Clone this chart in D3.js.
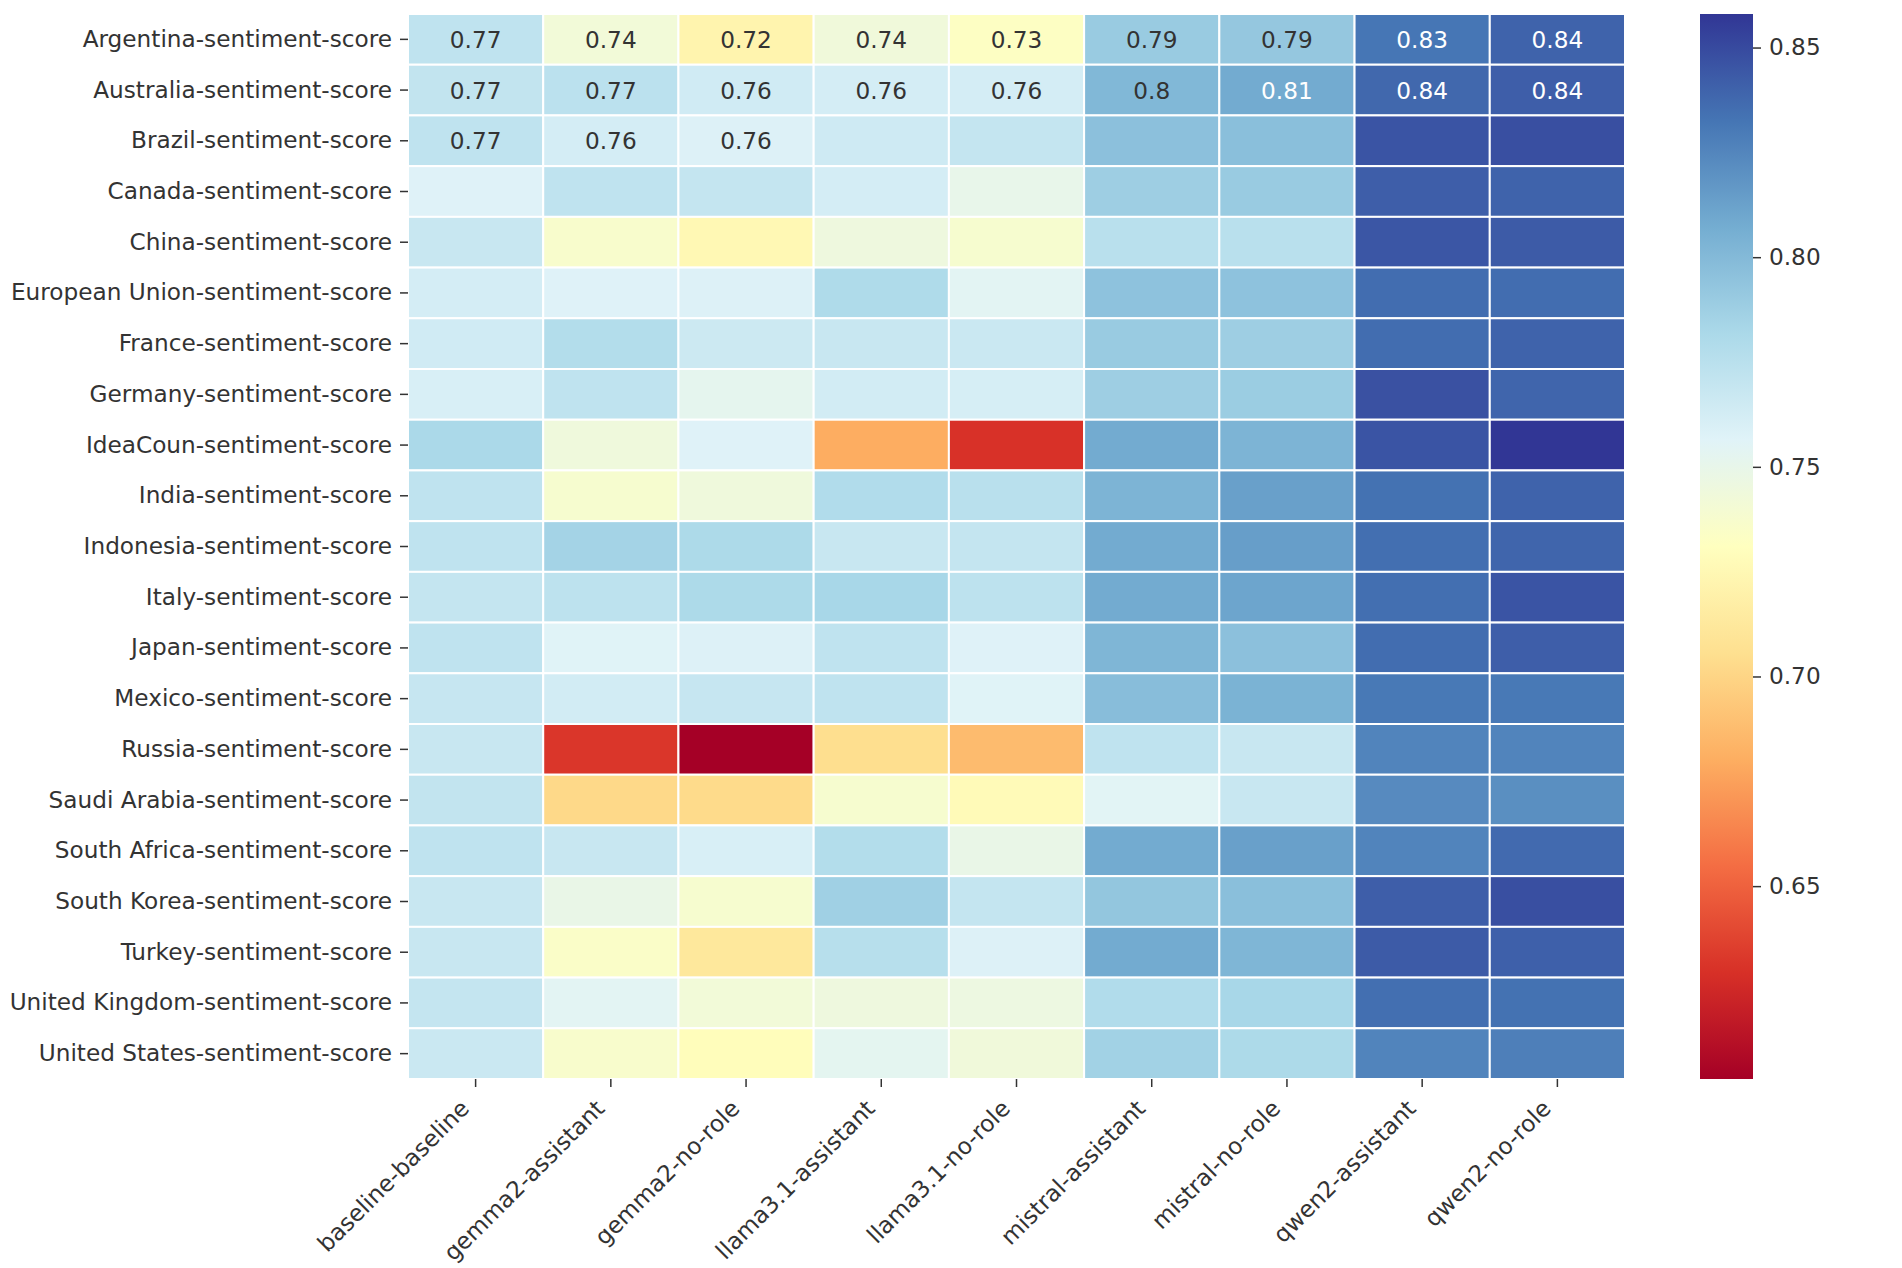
<!DOCTYPE html>
<html lang="en">
<head>
    <meta charset="UTF-8">
    <title>Sentiment score heatmap</title>
    <style>
        body { margin: 0; background: #fff; }
        text { font-family: "DejaVu Sans", sans-serif; }
    </style>
</head>
<body>
<script src="https://d3js.org/d3.v7.min.js"></script>
<script>
    const width = 1902, height = 1268;

    const columns = ["baseline-baseline", "gemma2-assistant", "gemma2-no-role", "llama3.1-assistant",
        "llama3.1-no-role", "mistral-assistant", "mistral-no-role", "qwen2-assistant", "qwen2-no-role"];

    const rows = ["Argentina", "Australia", "Brazil", "Canada", "China", "European Union", "France",
        "Germany", "IdeaCoun", "India", "Indonesia", "Italy", "Japan", "Mexico", "Russia",
        "Saudi Arabia", "South Africa", "South Korea", "Turkey", "United Kingdom", "United States"]
        .map(d => d + "-sentiment-score");

    // one row per country, one value per column
    const values = [
        [0.772, 0.742, 0.722, 0.743, 0.733, 0.790, 0.792, 0.832, 0.840],
        [0.771, 0.774, 0.764, 0.762, 0.762, 0.801, 0.808, 0.838, 0.842],
        [0.772, 0.762, 0.758, 0.765, 0.770, 0.796, 0.797, 0.846, 0.848],
        [0.757, 0.772, 0.770, 0.762, 0.750, 0.788, 0.790, 0.842, 0.840],
        [0.768, 0.737, 0.725, 0.745, 0.738, 0.775, 0.775, 0.845, 0.843],
        [0.762, 0.757, 0.758, 0.780, 0.754, 0.795, 0.795, 0.836, 0.836],
        [0.764, 0.778, 0.766, 0.768, 0.767, 0.790, 0.788, 0.836, 0.840],
        [0.760, 0.772, 0.752, 0.763, 0.761, 0.788, 0.789, 0.847, 0.839],
        [0.782, 0.744, 0.757, 0.680, 0.630, 0.808, 0.803, 0.846, 0.858],
        [0.772, 0.738, 0.744, 0.779, 0.775, 0.803, 0.813, 0.834, 0.840],
        [0.772, 0.785, 0.781, 0.768, 0.770, 0.808, 0.814, 0.835, 0.839],
        [0.770, 0.773, 0.781, 0.783, 0.773, 0.808, 0.811, 0.835, 0.846],
        [0.772, 0.756, 0.758, 0.772, 0.757, 0.802, 0.796, 0.836, 0.842],
        [0.769, 0.763, 0.769, 0.772, 0.756, 0.798, 0.804, 0.831, 0.831],
        [0.768, 0.632, 0.604, 0.705, 0.687, 0.772, 0.768, 0.826, 0.826],
        [0.771, 0.702, 0.703, 0.738, 0.727, 0.755, 0.768, 0.823, 0.821],
        [0.772, 0.768, 0.760, 0.778, 0.749, 0.808, 0.813, 0.826, 0.837],
        [0.768, 0.749, 0.738, 0.787, 0.770, 0.793, 0.797, 0.842, 0.848],
        [0.768, 0.735, 0.712, 0.776, 0.758, 0.808, 0.802, 0.843, 0.841],
        [0.770, 0.754, 0.742, 0.745, 0.746, 0.779, 0.783, 0.835, 0.834],
        [0.767, 0.737, 0.729, 0.753, 0.743, 0.786, 0.781, 0.826, 0.828]
    ];

    // how many cells carry a printed value, counted from the left, for the first rows
    const annotated = [9, 9, 3];

    const colorTicks = [0.65, 0.70, 0.75, 0.80, 0.85];

    const fontSize = 23.2;
    const heat = {left: 408, right: 1625, top: 14, bottom: 1079};
    const bar = {left: 1700, right: 1753};

    const svg = d3.select("body")
        .append("svg")
        .attr("width", width)
        .attr("height", height);

    const x = d3.scaleBand().domain(columns).range([heat.left, heat.right]);
    const y = d3.scaleBand().domain(rows).range([heat.top, heat.bottom]);

    const flat = values.flat();
    const vmin = d3.min(flat), vmax = d3.max(flat);

    // matplotlib's RdYlBu: straight lines between the 11 brewer colours
    const stops = d3.schemeRdYlBu[11];
    const color = d3.scaleLinear()
        .domain(d3.range(11).map(i => vmin + (vmax - vmin) * i / 10))
        .range(stops)
        .interpolate(d3.interpolateRgb)
        .clamp(true);

    const cells = [];
    values.forEach((r, i) => r.forEach((v, j) => cells.push({row: rows[i], col: columns[j], i, j, v})));

    svg.append("g")
        .selectAll("rect")
        .data(cells)
        .join("rect")
        .attr("x", d => x(d.col))
        .attr("y", d => y(d.row))
        .attr("width", x.bandwidth())
        .attr("height", y.bandwidth())
        .attr("fill", d => color(d.v))
        .attr("stroke", "#fff")
        .attr("stroke-width", 2);

    // seaborn picks the annotation colour from the cell luminance
    function textColor(c) {
        const rgb = d3.rgb(c);
        const lin = [rgb.r, rgb.g, rgb.b].map(u => {
            u /= 255;
            return u <= 0.03928 ? u / 12.92 : Math.pow((u + 0.055) / 1.055, 2.4);
        });
        const lum = 0.2126 * lin[0] + 0.7152 * lin[1] + 0.0722 * lin[2];
        return lum > 0.408 ? "#333333" : "#ffffff";
    }

    const fmt = d3.format(".2~g");
    svg.append("g")
        .selectAll("text")
        .data(cells.filter(d => d.i < annotated.length && d.j < annotated[d.i]))
        .join("text")
        .attr("x", d => x(d.col) + x.bandwidth() / 2)
        .attr("y", d => y(d.row) + y.bandwidth() / 2)
        .attr("text-anchor", "middle")
        .attr("dominant-baseline", "central")
        .attr("font-size", fontSize)
        .attr("fill", d => textColor(color(d.v)))
        .text(d => fmt(d.v));

    // y axis
    const yAxis = svg.append("g")
        .attr("transform", `translate(${heat.left},0)`)
        .call(d3.axisLeft(y).tickSize(8).tickPadding(8));
    yAxis.select(".domain").remove();
    yAxis.selectAll("line").attr("stroke", "#333").attr("stroke-width", 1.5);
    yAxis.selectAll("text").attr("font-size", fontSize).attr("fill", "#333")
        .attr("font-family", "DejaVu Sans");

    // x axis, labels turned 45 degrees and hung from their top right corner
    const xAxis = svg.append("g")
        .attr("transform", `translate(0,${heat.bottom})`)
        .call(d3.axisBottom(x).tickSize(8).tickPadding(8));
    xAxis.select(".domain").remove();
    xAxis.selectAll("line").attr("stroke", "#333").attr("stroke-width", 1.5);
    xAxis.selectAll("text")
        .attr("font-size", fontSize)
        .attr("font-family", "DejaVu Sans")
        .attr("fill", "#333")
        .attr("text-anchor", "end")
        .attr("dy", null)
        .attr("y", null)
        .attr("transform", "translate(-5,31) rotate(-45)");

    // colour bar
    const defs = svg.append("defs");
    const grad = defs.append("linearGradient")
        .attr("id", "cbar")
        .attr("x1", 0).attr("y1", 1).attr("x2", 0).attr("y2", 0);
    grad.selectAll("stop")
        .data(stops)
        .join("stop")
        .attr("offset", (d, i) => i / 10)
        .attr("stop-color", d => d);

    svg.append("rect")
        .attr("x", bar.left)
        .attr("y", heat.top)
        .attr("width", bar.right - bar.left)
        .attr("height", heat.bottom - heat.top)
        .attr("fill", "url(#cbar)");

    const cScale = d3.scaleLinear().domain([vmin, vmax]).range([heat.bottom, heat.top]);
    const cAxis = svg.append("g")
        .attr("transform", `translate(${bar.right},0)`)
        .call(d3.axisRight(cScale).tickValues(colorTicks).tickFormat(d3.format(".2f"))
            .tickSize(8).tickPadding(8));
    cAxis.select(".domain").remove();
    cAxis.selectAll("line").attr("stroke", "#333").attr("stroke-width", 1.5);
    cAxis.selectAll("text").attr("font-size", fontSize).attr("fill", "#333")
        .attr("font-family", "DejaVu Sans");
</script>
</body>
</html>
